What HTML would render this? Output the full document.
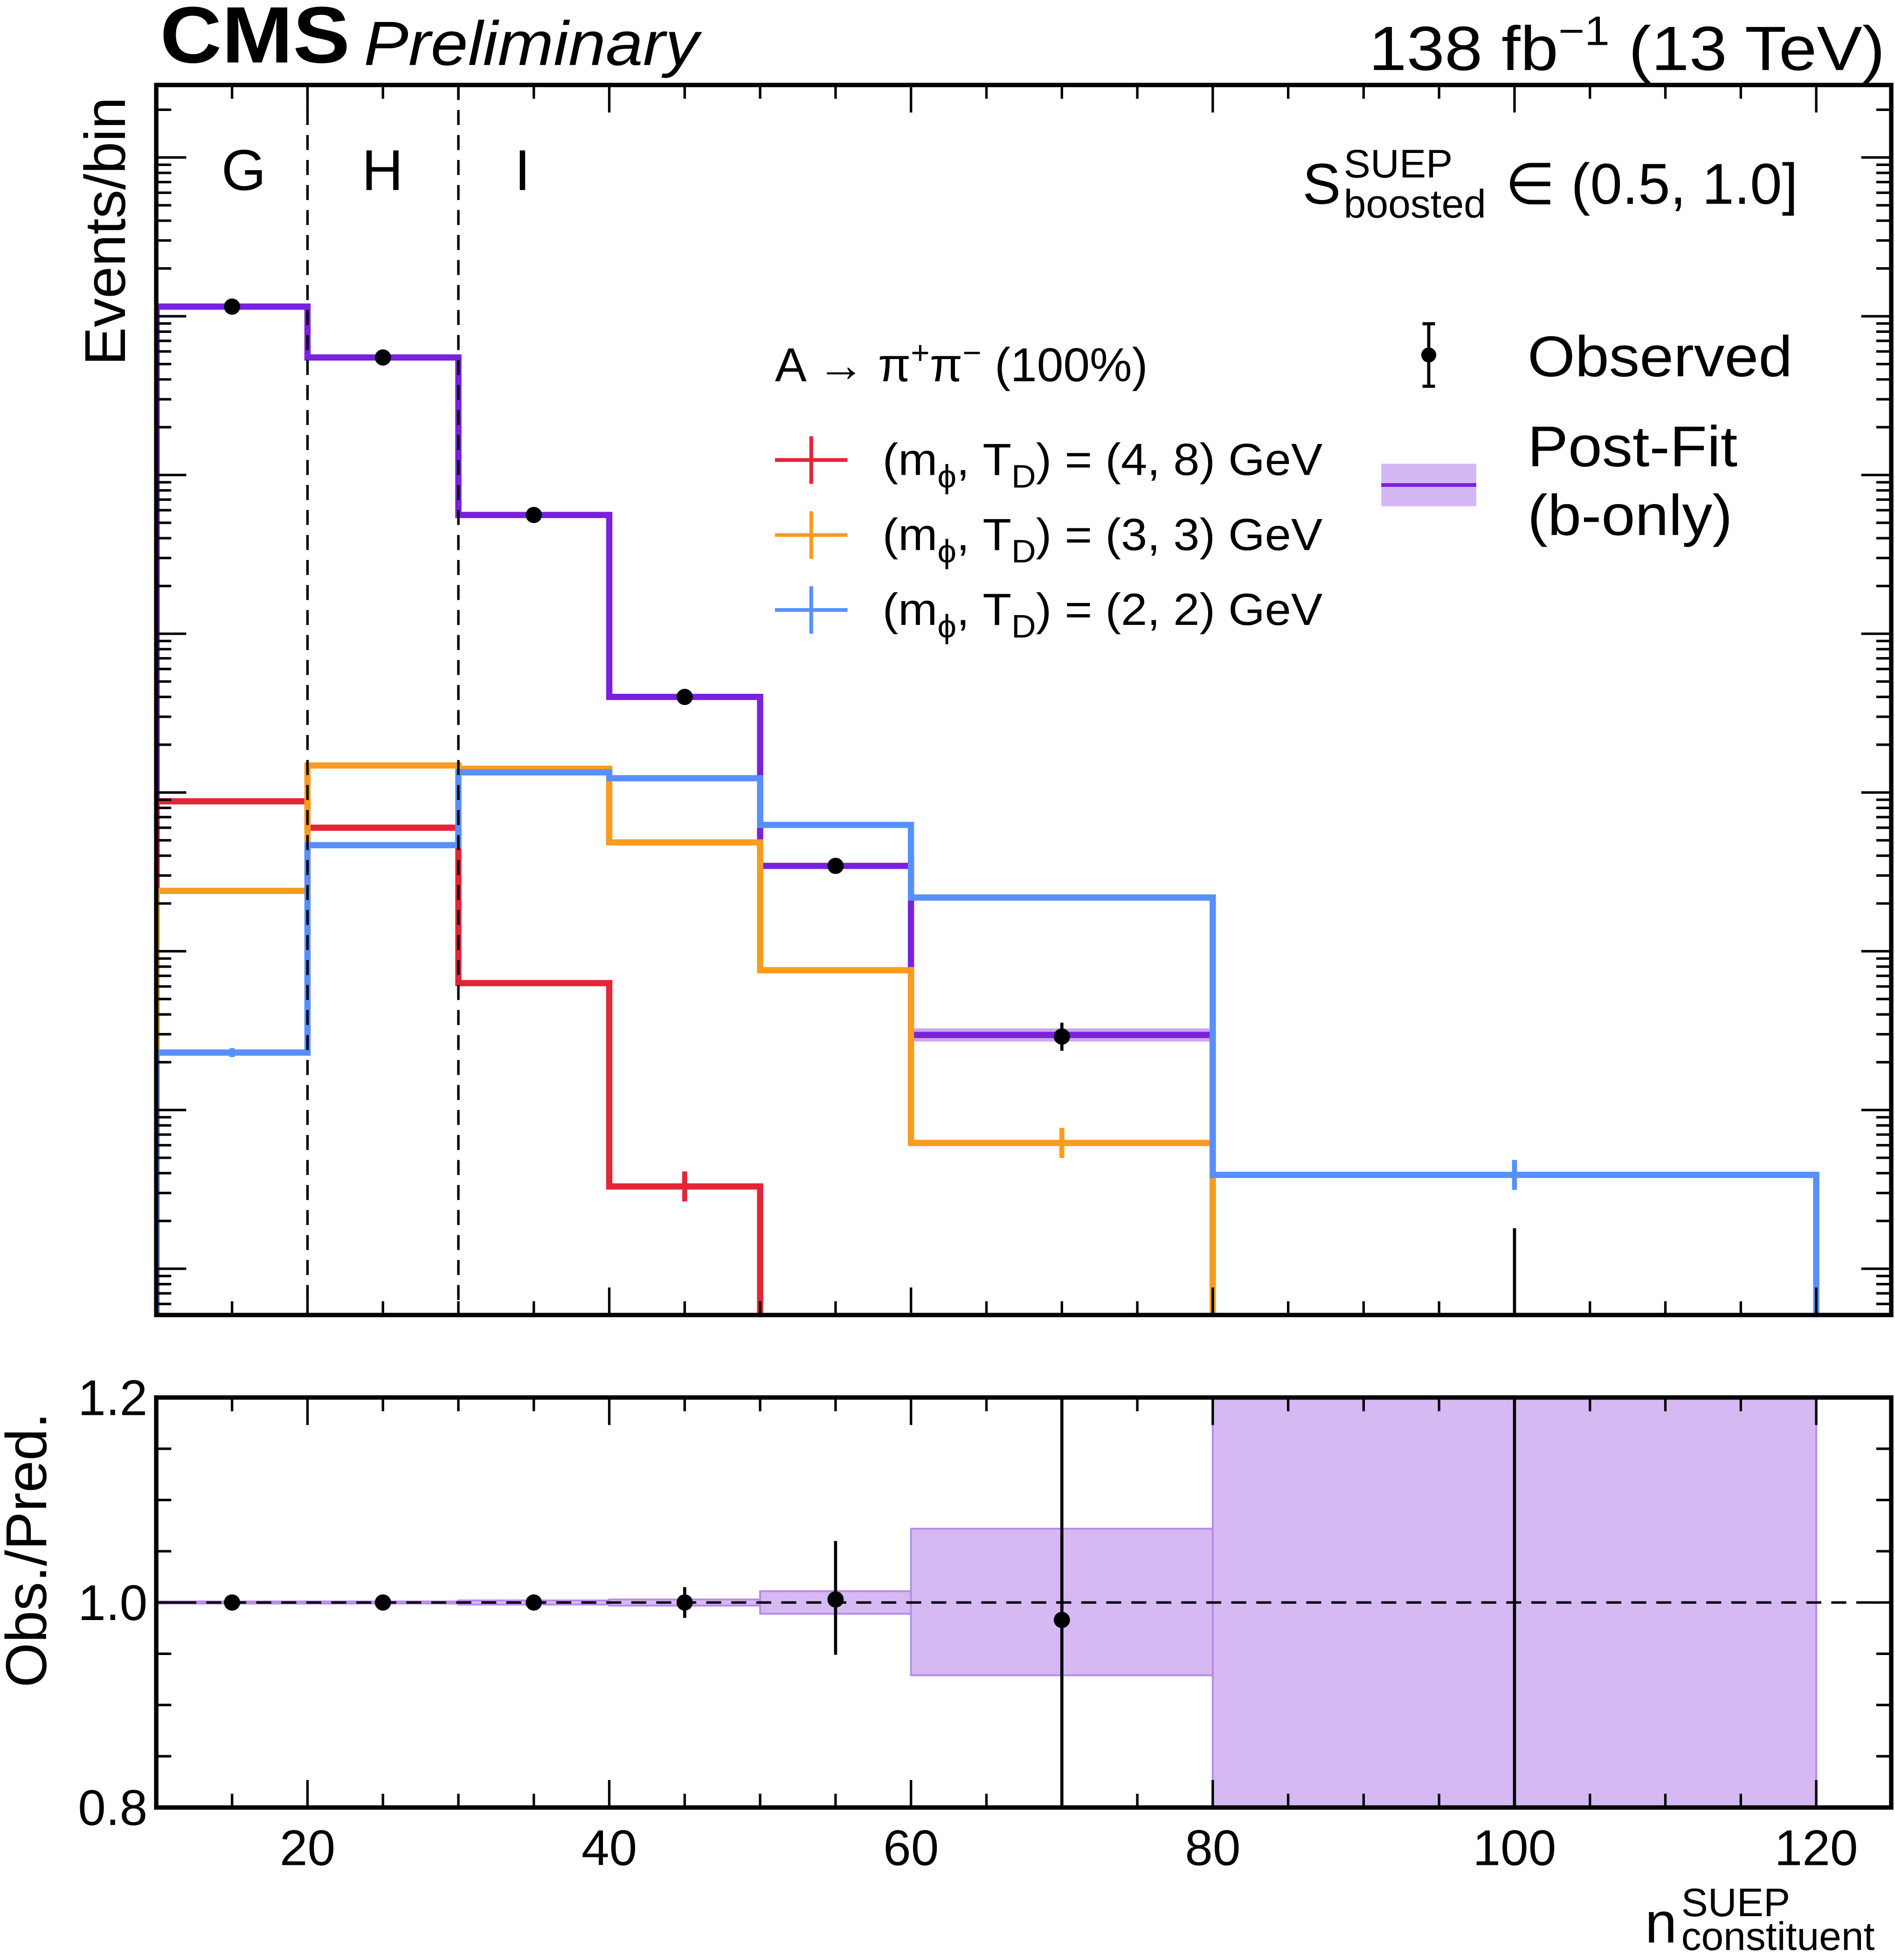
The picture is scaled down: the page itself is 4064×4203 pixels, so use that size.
<!DOCTYPE html>
<html><head><meta charset="utf-8"><style>
html,body{margin:0;padding:0;background:#fff;overflow:hidden;width:4064px;height:4203px;}
svg{display:block;font-family:"Liberation Sans",sans-serif;}
</style></head><body>
<svg id="chart" width="4064" height="4203" viewBox="0 0 1516 1568" preserveAspectRatio="none" xmlns="http://www.w3.org/2000/svg">
<g id="main"></g>
<g id="ratio"></g>
<g id="texts">
<text x="128" y="50" font-size="64" font-weight="bold" textLength="152" lengthAdjust="spacingAndGlyphs">CMS</text>
<text x="291" y="52" font-size="50" font-style="italic" textLength="268" lengthAdjust="spacingAndGlyphs">Preliminary</text>
<text x="1095" y="56" font-size="50" textLength="413" lengthAdjust="spacingAndGlyphs">138 fb<tspan dy="-20" font-size="33">−1</tspan><tspan dy="20"> (13 TeV)</tspan></text>
<text transform="translate(100,185) rotate(-90)" font-size="46" text-anchor="middle">Events/bin</text>
<text transform="translate(37,1240) rotate(-90)" font-size="46" text-anchor="middle">Obs./Pred.</text>
<text x="1316" y="1554" font-size="46">n<tspan x="1345" y="1533" font-size="32">SUEP</tspan><tspan x="1345" y="1560" font-size="32">constituent</tspan></text>
<text x="195" y="152" font-size="46" text-anchor="middle">G</text>
<text x="306" y="152" font-size="46" text-anchor="middle">H</text>
<text x="418" y="152" font-size="46" text-anchor="middle">I</text>
<text x="1042" y="163" font-size="46">S<tspan x="1075" y="142" font-size="32">SUEP</tspan><tspan x="1075" y="174" font-size="32">boosted</tspan><tspan x="1204" y="163">∈ (0.5, 1.0]</tspan></text>
<text x="620" y="305" font-size="38">A → π<tspan dy="-14" font-size="26">+</tspan><tspan dy="14">π</tspan><tspan dy="-14" font-size="26">−</tspan><tspan dy="14">  (100%)</tspan></text>
<g><line x1="620" y1="368" x2="678" y2="368" stroke="#e42536" stroke-width="3"/><line x1="649" y1="349" x2="649" y2="387" stroke="#e42536" stroke-width="3"/><text x="706" y="380" font-size="36" textLength="352" lengthAdjust="spacingAndGlyphs">(m<tspan dy="10" font-size="26">ϕ</tspan><tspan dy="-10">, T</tspan><tspan dy="10" font-size="26">D</tspan><tspan dy="-10">) = (4, 8) GeV</tspan></text></g>
<g><line x1="620" y1="428" x2="678" y2="428" stroke="#f89c20" stroke-width="3"/><line x1="649" y1="409" x2="649" y2="447" stroke="#f89c20" stroke-width="3"/><text x="706" y="440" font-size="36" textLength="352" lengthAdjust="spacingAndGlyphs">(m<tspan dy="10" font-size="26">ϕ</tspan><tspan dy="-10">, T</tspan><tspan dy="10" font-size="26">D</tspan><tspan dy="-10">) = (3, 3) GeV</tspan></text></g>
<g><line x1="620" y1="488" x2="678" y2="488" stroke="#5790fc" stroke-width="3"/><line x1="649" y1="469" x2="649" y2="507" stroke="#5790fc" stroke-width="3"/><text x="706" y="500" font-size="36" textLength="352" lengthAdjust="spacingAndGlyphs">(m<tspan dy="10" font-size="26">ϕ</tspan><tspan dy="-10">, T</tspan><tspan dy="10" font-size="26">D</tspan><tspan dy="-10">) = (2, 2) GeV</tspan></text></g>
<g><line x1="1143" y1="259" x2="1143" y2="309" stroke="#000" stroke-width="2.5"/><line x1="1138" y1="259" x2="1148" y2="259" stroke="#000" stroke-width="2.5"/><line x1="1138" y1="309" x2="1148" y2="309" stroke="#000" stroke-width="2.5"/><circle cx="1143" cy="284" r="6"/><text x="1222" y="301" font-size="46" textLength="212" lengthAdjust="spacingAndGlyphs">Observed</text></g>
<g><rect x="1105" y="371" width="76" height="34" fill="#c9a6f0" opacity="0.8"/><line x1="1105" y1="388" x2="1181" y2="388" stroke="#7a21dd" stroke-width="3"/><text x="1222" y="373" font-size="46" textLength="168" lengthAdjust="spacingAndGlyphs">Post-Fit</text><text x="1222" y="428" font-size="46" textLength="164" lengthAdjust="spacingAndGlyphs">(b-only)</text></g>
</g>
</svg>
<script>
const edges = [10,20,30,40,50,60,80,120];
const centers = [15,25,35,45,55,70,100];
const bkg = [1.15e6,5.5e5,5.6e4,4.0e3,345,29.7,0.3];
const obs = [1.15e6,5.5e5,5.6e4,4.0e3,345,29,0];
const obsErrDown = [1000,700,240,63,19,5.4,0];
const obsErrUp = [1000,700,240,63,19,6.5,1.8];
const sigRed = [880,600,63,3.3,0,0,0];
const sigOrange = [240,1480,1410,485,76,6.2,0];
const sigBlue = [23,466,1340,1230,625,218,3.9];
const ratioVals = [1.0,1.0,1.0,1.0,1.003,0.983];
const ratioErrDown = [0.002,0.002,0.003,0.015,0.054,0.3];
const ratioErrUp = [0.002,0.002,0.003,0.015,0.057,0.3];
const bandDown = [0.999,0.999,0.998,0.997,0.989,0.929,0.5];
const bandUp = [1.001,1.001,1.002,1.003,1.011,1.072,1.5];
const xTickLabels = [20,40,60,80,100,120];
const ratioTickLabels = [0.8,1.0,1.2];

const NS="http://www.w3.org/2000/svg";
const X0=125,X1=1513,MT=68,MB=1052,RT=1118,RB=1446;
const xs=v=>125.3+(v-10)*12.07;
const ys=v=>{if(v<=0)return MB+20;const y=1015-127*Math.log10(v);return Math.min(y,MB+20);};
const yr=v=>1282-(v-1)*820;
function el(parent,tag,attrs){const e=document.createElementNS(NS,tag);for(const k in attrs)e.setAttribute(k,attrs[k]);parent.appendChild(e);return e;}
const main=document.getElementById('main'), ratio=document.getElementById('ratio');
const clipDefs=el(document.getElementById('chart'),'defs',{});
const cp=el(clipDefs,'clipPath',{id:'mc'});el(cp,'rect',{x:X0,y:MT,width:X1-X0,height:MB-MT});
const cp2=el(clipDefs,'clipPath',{id:'rc'});el(cp2,'rect',{x:X0,y:RT,width:X1-X0,height:RB-RT});
const mg=el(main,'g',{'clip-path':'url(#mc)'});
const rg=el(ratio,'g',{'clip-path':'url(#rc)'});

function stepPath(vals){let d=`M${xs(edges[0])},${MB+20}`;for(let i=0;i<vals.length;i++){d+=` L${xs(edges[i])},${ys(vals[i])} L${xs(edges[i+1])},${ys(vals[i])}`;}d+=` L${xs(edges[vals.length])},${MB+20}`;return d;}
function drawHist(vals,color,name){
  const p=el(mg,'path',{d:stepPath(vals),fill:'none',stroke:color,'stroke-width':5});
  
  
}
const bb=el(mg,'rect',{x:xs(60),y:ys(bkg[5]*1.1),width:xs(80)-xs(60),height:ys(bkg[5]/1.1)-ys(bkg[5]*1.1),fill:'#c9a6f0'});


drawHist(bkg,'#7a21dd','postfit-bkg-hist');
drawHist(sigRed,'#e42536','signal-red-hist');
drawHist(sigOrange,'#f89c20','signal-orange-hist');
drawHist(sigBlue,'#5790fc','signal-blue-hist');
[[sigRed,3,'#e42536'],[sigOrange,5,'#f89c20'],[sigBlue,6,'#5790fc'],[sigBlue,0,'#5790fc']].forEach(([s,i,c])=>{
  const v=s[i];const t=el(mg,'line',{x1:xs(centers[i]),x2:xs(centers[i]),y1:ys(v)-12*(i===0?0.3:1),y2:ys(v)+12*(i===0?0.3:1),stroke:c,'stroke-width':4});
  
  
});
for(let i=0;i<centers.length;i++){
  const x=xs(centers[i]);
  const hi=ys(obs[i]+obsErrUp[i]);const lo=obs[i]>0?ys(Math.max(obs[i]-obsErrDown[i],1e-3)):MB+20;
  const l=el(mg,'line',{x1:x,x2:x,y1:hi,y2:lo,stroke:'#000','stroke-width':2.5});
  
  
  if(obs[i]>0){const c=el(mg,'circle',{cx:x,cy:ys(obs[i]),r:6.5,fill:'#000'});
  
  }
}
[20,30].forEach(v=>{const l=el(main,'line',{x1:xs(v),x2:xs(v),y1:MT,y2:MB,stroke:'#000','stroke-width':2,'stroke-dasharray':'12,8'});

});
const f1=el(main,'rect',{x:X0,y:MT,width:X1-X0,height:MB-MT,fill:'none',stroke:'#000','stroke-width':3.5});


for(let d=-1;d<8;d++){for(let m=1;m<10;m++){const v=m*Math.pow(10,d);const y=ys(v);if(y<MT||y>MB)continue;const len=m===1?24:12;
 el(main,'line',{x1:X0,x2:X0+len,y1:y,y2:y,stroke:'#000','stroke-width':2});
 el(main,'line',{x1:X1,x2:X1-len,y1:y,y2:y,stroke:'#000','stroke-width':2});}}
function xTicks(g,top,bot){for(let v=10;v<=125;v+=5){const x=xs(v);const len=v%20===0?22:11;
 el(g,'line',{x1:x,x2:x,y1:bot,y2:bot-len,stroke:'#000','stroke-width':2});
 el(g,'line',{x1:x,x2:x,y1:top,y2:top+len,stroke:'#000','stroke-width':2});}}
xTicks(main,MT,MB);
for(let i=0;i<centers.length;i++){
  const r=el(rg,'rect',{x:xs(edges[i]),y:yr(bandUp[i]),width:xs(edges[i+1])-xs(edges[i]),height:yr(bandDown[i])-yr(bandUp[i]),fill:'#d6b9f3',stroke:'#b88ae8','stroke-width':1.5});
  
  
}
el(ratio,'line',{x1:X0,x2:X1,y1:yr(1),y2:yr(1),stroke:'#000','stroke-width':2,'stroke-dasharray':'12,8'});
for(let i=0;i<ratioVals.length;i++){
  const x=xs(centers[i]);
  const l=el(rg,'line',{x1:x,x2:x,y1:yr(ratioVals[i]+ratioErrUp[i]),y2:yr(ratioVals[i]-ratioErrDown[i]),stroke:'#000','stroke-width':2.5});
  
  
  const c=el(rg,'circle',{cx:x,cy:yr(ratioVals[i]),r:6.5,fill:'#000'});
  
  
}
const l100=el(rg,'line',{x1:xs(100),x2:xs(100),y1:RT,y2:RB,stroke:'#000','stroke-width':2.5});


const f2=el(ratio,'rect',{x:X0,y:RT,width:X1-X0,height:RB-RT,fill:'none',stroke:'#000','stroke-width':3.5});


xTicks(ratio,RT,RB);
for(let k=0;k<=8;k++){const v=0.8+k*0.05;const y=yr(v);const len=k%4===0?24:12;
 el(ratio,'line',{x1:X0,x2:X0+len,y1:y,y2:y,stroke:'#000','stroke-width':2});
 el(ratio,'line',{x1:X1,x2:X1-len,y1:y,y2:y,stroke:'#000','stroke-width':2});}
ratioTickLabels.forEach(v=>{const t=el(ratio,'text',{x:118,y:yr(v)+14,'font-size':40,'text-anchor':'end'});t.textContent=v.toFixed(1);

});
xTickLabels.forEach(v=>{const t=el(ratio,'text',{x:xs(v),y:1492,'font-size':40,'text-anchor':'middle'});t.textContent=v;

});
</script>
</body></html>
